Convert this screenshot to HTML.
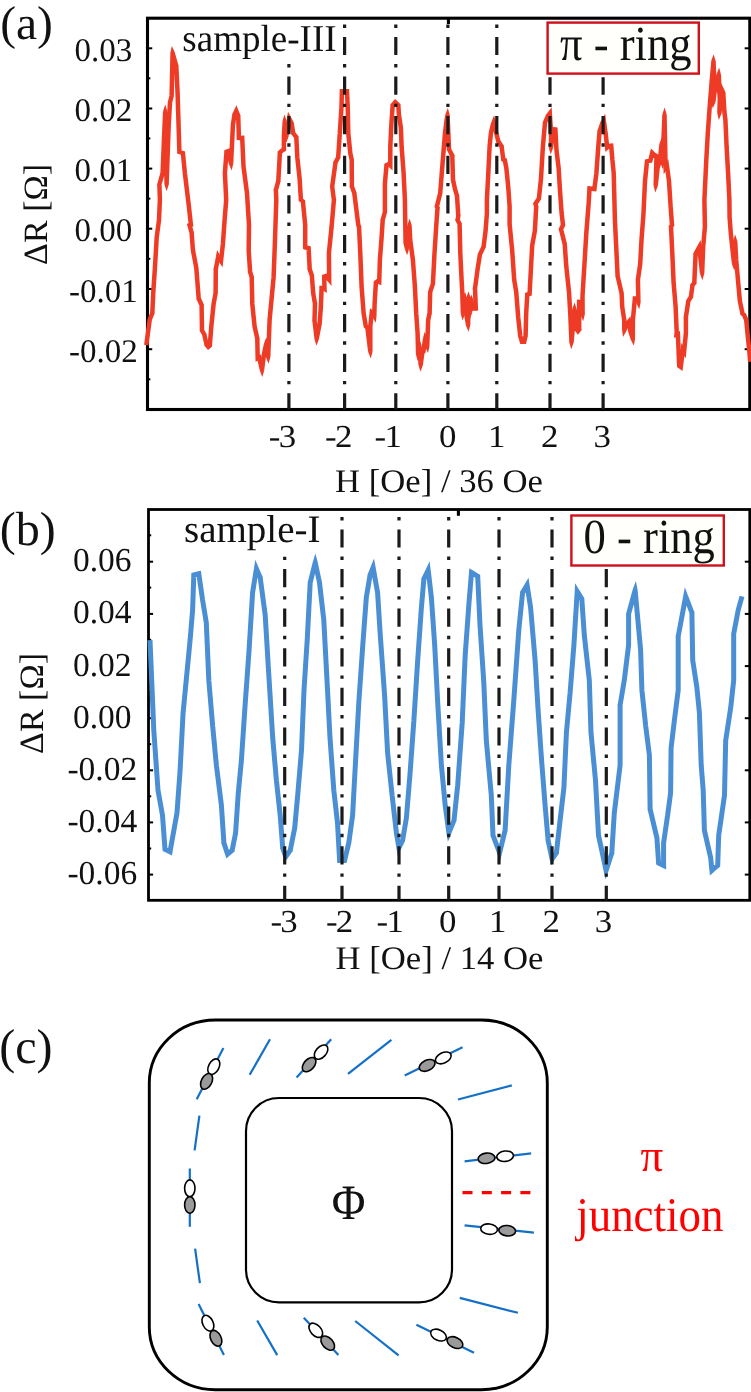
<!DOCTYPE html>
<html lang="en"><head><meta charset="utf-8"><title>Figure</title>
<style>
html,body{margin:0;padding:0;background:#fff;}
body{width:751px;height:1392px;overflow:hidden;}
svg{display:block;}
text{font-family:"Liberation Serif","DejaVu Serif",serif;fill:#111;text-rendering:geometricPrecision;}
</style></head><body>
<svg width="751" height="1392" viewBox="0 0 751 1392">
<rect width="751" height="1392" fill="#fff"/>

<rect x="147.5" y="18.2" width="602.3" height="391.3" fill="none" stroke="#000" stroke-width="3.1"/>
<g stroke="#000" stroke-width="2">
<line x1="147.5" y1="48.3" x2="152.25" y2="48.3"/>
<line x1="749.8" y1="48.3" x2="744.65" y2="48.3"/>
<line x1="147.5" y1="108.5" x2="152.25" y2="108.5"/>
<line x1="749.8" y1="108.5" x2="744.65" y2="108.5"/>
<line x1="147.5" y1="168.6" x2="152.25" y2="168.6"/>
<line x1="749.8" y1="168.6" x2="744.65" y2="168.6"/>
<line x1="147.5" y1="228.7" x2="152.25" y2="228.7"/>
<line x1="749.8" y1="228.7" x2="744.65" y2="228.7"/>
<line x1="147.5" y1="289.0" x2="152.25" y2="289.0"/>
<line x1="749.8" y1="289.0" x2="744.65" y2="289.0"/>
<line x1="147.5" y1="349.2" x2="152.25" y2="349.2"/>
<line x1="749.8" y1="349.2" x2="744.65" y2="349.2"/>
<line x1="147.5" y1="78.3" x2="150.35000000000002" y2="78.3"/>
<line x1="147.5" y1="138.4" x2="150.35000000000002" y2="138.4"/>
<line x1="147.5" y1="198.6" x2="150.35000000000002" y2="198.6"/>
<line x1="147.5" y1="258.8" x2="150.35000000000002" y2="258.8"/>
<line x1="147.5" y1="319.0" x2="150.35000000000002" y2="319.0"/>
<line x1="147.5" y1="379.3" x2="150.35000000000002" y2="379.3"/>
</g>
<path d="M146.3,345.1 L149.7,319.8 L152.3,313.2 L153.3,291.9 L155.0,266.6 L156.7,237.3 L159.0,220.0 L159.9,200.0 L159.4,184.5 L162.6,173.2 L163.9,141.2 L165.2,111.6 L166.6,184.2 L168.7,125.2 L170.0,102.6 L171.6,95.9 L172.6,52.9 L176.3,66.0 L177.6,93.3 L179.4,151.9 L182.9,153.2 L184.9,173.2 L188.9,206.4 L190.9,225.0 L189.6,225.3 L191.6,232.6 L192.9,249.9 L196.3,267.9 L198.7,298.5 L201.6,305.2 L202.0,330.5 L204.3,334.5 L206.6,344.8 L208.3,346.8 L209.8,345.5 L211.3,326.5 L213.6,303.9 L215.6,293.2 L215.8,269.2 L218.2,256.6 L219.3,258.6 L221.0,261.1 L222.9,243.9 L224.6,220.0 L226.2,200.0 L224.9,173.2 L226.5,151.9 L228.2,151.2 L231.1,163.5 L232.9,125.2 L234.5,114.6 L236.2,110.9 L238.2,115.9 L238.9,137.9 L242.2,137.9 L243.5,166.5 L247.0,193.1 L249.0,225.0 L248.7,250.6 L250.1,271.9 L251.7,277.2 L252.3,303.9 L254.6,326.5 L257.3,338.5 L257.7,358.2 L259.2,357.4 L262.0,370.1 L263.9,354.5 L266.1,344.1 L268.2,356.8 L269.6,319.8 L271.6,298.5 L273.6,277.2 L275.0,239.9 L276.3,200.0 L275.9,189.8 L278.3,181.1 L279.9,152.5 L282.3,150.4 L283.9,149.3 L283.9,135.9 L284.7,121.5 L286.5,135.5 L289.2,118.6 L291.6,123.2 L293.2,133.2 L296.3,137.2 L297.3,157.2 L299.6,178.5 L300.9,199.8 L302.9,201.4 L305.2,225.0 L305.2,247.3 L308.6,248.2 L309.7,269.2 L311.8,275.2 L313.2,293.2 L315.0,303.9 L314.5,320.5 L316.7,338.8 L319.6,323.8 L320.9,306.5 L321.6,287.9 L322.9,287.8 L324.5,288.8 L324.2,276.6 L326.1,276.0 L329.2,279.7 L328.9,253.3 L331.6,226.6 L333.9,200.0 L332.2,186.5 L335.5,162.5 L338.2,157.2 L339.8,133.2 L341.5,106.6 L341.9,91.3 L347.0,91.3 L347.7,106.6 L348.3,133.2 L350.3,153.2 L351.7,159.8 L351.9,186.5 L354.3,193.1 L356.3,209.1 L358.3,225.0 L359.0,226.6 L360.3,253.3 L361.6,286.6 L363.6,313.2 L365.8,326.2 L367.4,327.6 L370.3,351.5 L370.3,326.5 L371.8,312.3 L373.0,313.2 L374.3,316.0 L374.6,303.9 L375.9,282.6 L377.6,281.2 L379.2,281.9 L379.9,259.9 L381.6,237.3 L382.7,220.0 L384.9,212.0 L384.9,183.8 L386.5,165.2 L388.9,163.9 L390.3,165.2 L390.3,146.5 L391.3,125.2 L392.7,105.2 L395.2,102.2 L398.3,105.2 L398.9,114.6 L400.9,127.9 L401.6,146.5 L403.6,173.2 L404.9,199.8 L405.2,220.0 L405.6,242.6 L406.9,248.3 L408.6,239.9 L409.5,225.6 L410.2,239.9 L412.9,259.9 L414.9,286.6 L416.2,313.2 L417.6,333.2 L418.1,354.1 L419.2,345.5 L420.7,364.8 L422.4,352.1 L423.4,351.5 L425.1,338.8 L427.2,346.2 L428.2,319.8 L429.6,313.2 L430.2,291.9 L432.9,283.9 L434.5,253.3 L436.2,226.6 L437.5,208.0 L436.9,206.4 L440.2,193.1 L442.2,167.8 L445.0,133.2 L446.6,119.9 L447.5,114.9 L448.3,133.2 L449.0,149.2 L452.3,155.8 L453.0,179.8 L455.0,189.1 L457.0,195.8 L458.3,215.8 L457.6,220.0 L459.6,224.0 L460.3,253.3 L461.6,279.9 L462.3,293.2 L462.9,313.5 L464.9,298.9 L466.3,314.5 L468.1,324.9 L468.6,298.2 L470.0,312.2 L471.7,301.5 L473.6,308.5 L475.8,308.4 L475.0,288.5 L477.6,269.2 L479.9,254.6 L483.6,246.6 L485.6,230.6 L486.9,213.3 L486.9,199.8 L488.3,173.2 L489.6,146.5 L490.9,133.2 L492.7,125.2 L493.7,122.3 L496.3,133.2 L498.3,141.2 L501.6,146.5 L503.3,159.5 L504.8,160.2 L506.3,167.8 L508.2,186.5 L509.6,206.4 L509.6,224.0 L512.2,250.6 L514.2,279.9 L516.2,291.9 L518.2,317.2 L520.2,335.8 L522.0,341.8 L524.2,341.8 L525.6,335.8 L526.2,313.2 L527.3,294.5 L529.6,293.9 L530.9,269.2 L532.2,245.3 L534.9,230.6 L536.2,206.7 L535.5,203.8 L538.9,198.5 L540.9,179.8 L542.9,146.5 L545.0,122.6 L547.9,115.9 L549.8,113.4 L551.1,133.2 L551.0,147.5 L552.9,129.2 L555.4,129.5 L556.5,150.5 L558.6,167.8 L559.9,189.1 L561.6,213.1 L563.0,225.0 L561.0,229.3 L564.7,243.9 L566.3,266.6 L569.0,291.9 L570.3,314.5 L571.5,342.2 L574.5,309.5 L576.7,329.2 L577.9,331.1 L579.2,329.5 L579.1,301.9 L580.8,301.7 L582.6,314.2 L582.5,295.9 L584.3,266.6 L586.3,233.3 L588.7,202.7 L589.5,188.5 L594.4,188.9 L596.4,173.2 L598.3,146.5 L599.6,131.2 L602.3,123.2 L603.8,120.5 L605.6,133.2 L607.2,147.4 L608.9,145.9 L611.2,145.7 L612.4,159.8 L613.7,173.2 L614.4,199.8 L614.9,220.0 L616.2,246.6 L617.6,275.9 L621.6,293.2 L622.2,306.5 L624.2,319.8 L624.3,330.2 L626.5,324.8 L627.8,322.9 L629.0,321.5 L630.2,330.5 L632.8,338.9 L632.9,319.8 L634.9,298.5 L637.5,298.5 L638.4,302.2 L637.9,279.9 L640.2,263.9 L641.5,239.9 L643.5,213.3 L645.0,181.1 L647.0,161.4 L650.3,160.6 L652.2,152.9 L654.1,154.8 L656.5,156.1 L655.7,185.5 L657.6,167.8 L659.9,160.5 L661.5,144.5 L662.6,162.2 L664.5,114.5 L665.6,167.5 L666.9,165.5 L669.0,181.1 L670.6,206.4 L672.0,225.0 L671.0,226.6 L672.3,253.3 L673.6,282.6 L675.6,306.5 L676.7,331.8 L676.5,334.5 L677.9,334.1 L679.2,365.8 L680.8,366.9 L682.9,349.5 L684.1,351.5 L685.9,333.2 L685.9,317.2 L688.3,301.2 L690.9,296.9 L692.5,285.2 L694.3,282.8 L695.6,253.9 L697.9,249.5 L699.2,247.0 L702.1,273.2 L703.2,246.6 L704.9,226.6 L704.4,199.8 L706.3,159.8 L707.8,133.2 L709.7,106.6 L711.8,79.9 L713.5,61.2 L714.5,87.9 L713.4,101.6 L715.8,79.6 L717.2,87.6 L718.8,74.5 L719.8,99.9 L719.4,112.9 L722.0,89.9 L723.3,93.3 L724.4,111.9 L725.4,119.9 L726.6,146.5 L728.1,173.2 L729.4,199.8 L729.6,217.3 L730.9,234.6 L732.9,253.3 L734.1,263.6 L735.2,241.6 L736.2,259.9 L738.2,282.6 L739.9,301.2 L742.5,313.5 L744.2,315.1 L746.2,319.8 L747.5,333.2 L749.5,353.1 L750.2,361.8" fill="none" stroke="#ee3b26" stroke-width="4.5" stroke-linejoin="bevel" stroke-linecap="butt"/>
<path d="M150.43,320.04 L147.43,319.55 L147.47,319.27 L147.57,319.00Z M154.57,313.28 L154.55,313.66 L154.41,314.02 L151.54,313.01Z M160.18,184.57 L157.13,184.55 L157.12,184.20 L157.22,183.86Z M164.82,173.25 L164.81,173.51 L164.74,173.77 L161.79,173.03Z M165.17,112.36 L162.93,111.47 L165.26,104.56 L167.43,111.52Z M168.87,184.23 L166.57,191.15 L164.37,184.20 L166.63,183.35Z M170.82,102.70 L167.79,102.45 L167.80,102.25 L167.85,102.06Z M173.88,95.98 L173.87,96.22 L173.82,96.45 L170.84,95.82Z M172.74,53.73 L170.39,52.89 L171.77,46.00 L174.81,52.33Z M175.50,66.09 L178.46,65.36 L178.53,65.60 L178.54,65.86Z M178.57,153.96 L177.15,153.43 L177.11,151.92 L180.00,151.38Z M182.32,153.67 L183.73,151.07 L185.05,151.56 L185.19,152.96Z M190.28,224.50 L193.18,224.71 L193.38,226.61 L191.54,227.12Z M187.46,225.90 L186.88,223.74 L189.03,223.15 L190.33,225.71Z M190.82,232.76 L193.78,232.04 L193.83,232.24 L193.85,232.45Z M196.60,299.44 L196.45,299.09 L196.42,298.71 L199.44,298.34Z M200.81,305.36 L203.65,304.29 L203.83,304.70 L203.84,305.16Z M200.03,331.60 L199.75,331.10 L199.74,330.53 L202.76,330.28Z M203.51,334.78 L206.21,333.38 L206.37,333.66 L206.45,333.98Z M204.91,346.26 L204.57,345.85 L204.45,345.32 L207.36,344.46Z M209.75,348.51 L208.02,349.98 L206.56,348.24 L208.36,346.00Z M212.05,345.68 L211.98,346.61 L211.27,347.21 L209.10,345.13Z M217.82,293.23 L217.82,293.43 L217.78,293.62 L214.78,293.13Z M216.64,269.32 L213.59,269.22 L213.59,269.03 L213.63,268.84Z M218.29,257.34 L215.94,256.15 L217.06,250.02 L220.12,255.45Z M223.24,261.31 L222.58,267.31 L219.15,262.34 L220.81,260.29Z M227.13,152.34 L224.25,151.68 L224.36,150.22 L225.75,149.73Z M227.85,151.94 L227.49,149.11 L229.87,148.28 L230.43,150.74Z M233.30,163.62 L231.67,170.49 L228.86,164.02 L230.98,162.72Z M235.25,114.80 L232.26,114.23 L232.30,113.91 L232.45,113.61Z M236.19,111.70 L234.18,109.93 L236.39,105.26 L238.31,110.06Z M237.43,116.06 L240.30,115.07 L240.45,115.43 L240.46,115.83Z M238.87,140.12 L236.69,140.12 L236.63,137.94 L239.43,137.30Z M241.65,138.45 L242.20,135.62 L244.35,135.62 L244.45,137.76Z M247.90,272.55 L247.83,272.30 L247.81,272.04 L250.85,271.76Z M250.87,277.36 L253.81,276.58 L253.90,276.87 L253.91,277.17Z M256.46,338.58 L259.45,337.99 L259.49,338.21 L259.50,338.43Z M258.74,360.17 L255.59,361.71 L255.50,358.21 L258.16,357.47Z M258.85,358.16 L258.21,355.42 L260.78,354.17 L261.39,356.96Z M264.21,370.39 L262.30,377.11 L259.78,370.60 L261.94,369.32Z M266.10,344.93 L263.92,343.66 L266.30,337.13 L268.34,343.77Z M270.40,356.89 L268.57,363.79 L265.93,357.16 L268.11,356.00Z M276.69,189.89 L273.64,189.89 L273.63,189.54 L273.72,189.20Z M280.54,181.27 L280.52,181.51 L280.46,181.75 L277.50,181.02Z M280.60,152.87 L277.64,152.39 L277.69,151.44 L278.42,150.81Z M286.18,149.32 L286.19,150.52 L285.20,151.20 L283.23,148.96Z M284.71,122.35 L282.43,121.42 L284.41,114.55 L286.91,121.25Z M288.74,135.89 L286.44,142.55 L284.29,135.84 L286.53,134.75Z M289.29,119.37 L286.94,118.24 L288.01,111.68 L291.15,117.54Z M290.85,123.48 L293.60,122.17 L293.77,122.50 L293.83,122.87Z M291.42,134.58 L291.07,134.13 L290.98,133.56 L293.94,132.89Z M295.51,137.48 L298.05,135.83 L298.47,136.39 L298.51,137.08Z M299.52,201.54 L298.74,200.92 L298.68,199.93 L301.64,199.42Z M302.22,201.77 L304.33,199.63 L305.07,200.22 L305.16,201.17Z M304.60,249.44 L302.94,248.99 L302.94,247.27 L305.82,246.78Z M308.03,248.70 L309.23,246.03 L310.81,246.46 L310.90,248.09Z M307.59,269.99 L307.48,269.68 L307.47,269.35 L310.50,269.09Z M311.06,275.40 L313.96,274.48 L314.07,274.76 L314.09,275.07Z M314.24,303.92 L317.26,303.47 L317.30,303.70 L317.29,303.93Z M312.27,320.77 L312.25,320.60 L312.26,320.43 L315.31,320.47Z M318.90,339.25 L316.44,345.82 L314.45,339.09 L316.71,338.03Z M322.14,288.44 L319.32,287.80 L319.39,285.76 L321.43,285.64Z M322.70,288.57 L322.76,285.55 L323.51,285.51 L324.13,285.92Z M326.74,288.79 L326.83,293.06 L323.25,290.72 L324.10,288.14Z M324.87,277.04 L321.98,276.61 L321.94,274.90 L323.59,274.41Z M325.88,276.77 L325.47,273.85 L326.90,273.42 L327.85,274.57Z M331.41,279.65 L331.47,285.99 L327.43,281.11 L328.88,278.92Z M336.18,199.71 L336.21,199.96 L336.19,200.20 L333.15,200.02Z M333.02,186.48 L329.99,186.76 L329.95,186.46 L329.99,186.16Z M336.31,162.74 L333.32,162.19 L333.37,161.83 L333.53,161.50Z M340.45,157.33 L340.42,157.78 L340.22,158.18 L337.44,156.97Z M342.50,91.84 L339.69,91.21 L339.75,89.01 L341.94,89.01Z M346.44,91.84 L347.00,89.01 L349.15,89.01 L349.25,91.17Z M350.86,159.92 L353.86,159.40 L353.91,159.61 L353.91,159.82Z M349.81,187.23 L349.68,186.87 L349.67,186.49 L352.71,186.33Z M353.54,193.32 L356.44,192.37 L356.52,192.60 L356.55,192.85Z M356.22,225.78 L356.12,225.52 L356.08,225.23 L359.09,224.75Z M358.20,226.80 L361.07,225.80 L361.21,226.15 L361.23,226.52Z M364.31,327.85 L363.73,327.32 L363.59,326.54 L366.51,325.79Z M366.68,327.96 L368.89,325.91 L369.52,326.47 L369.62,327.31Z M372.59,351.48 L370.77,358.46 L368.10,351.75 L370.29,350.68Z M372.13,313.06 L369.56,312.09 L369.98,308.20 L373.13,310.52Z M372.35,313.69 L374.29,311.37 L374.75,311.70 L374.99,312.22Z M376.55,316.05 L375.77,322.84 L372.27,316.97 L374.13,315.22Z M376.60,282.93 L373.65,282.42 L373.71,281.40 L374.52,280.77Z M377.72,282.02 L376.25,279.44 L377.32,278.62 L378.55,279.17Z M381.41,281.99 L381.30,285.35 L378.24,283.97 L378.74,281.24Z M383.47,220.11 L380.44,219.84 L380.45,219.59 L380.52,219.36Z M387.20,211.98 L387.20,212.30 L387.11,212.60 L384.15,211.87Z M387.21,165.61 L384.30,164.97 L384.41,163.74 L385.51,163.17Z M388.80,164.74 L387.87,161.95 L389.28,161.22 L390.44,162.30Z M392.53,165.23 L392.54,170.41 L388.75,166.88 L389.96,164.50Z M393.41,105.55 L390.42,105.10 L390.47,104.36 L390.95,103.79Z M395.26,103.03 L393.51,100.77 L395.09,98.92 L396.82,100.63Z M397.54,105.58 L399.85,103.65 L400.45,104.25 L400.51,105.09Z M403.40,243.13 L403.34,242.89 L403.34,242.65 L406.38,242.51Z M409.14,248.73 L407.04,255.28 L404.75,248.80 L406.92,247.48Z M410.89,240.09 L410.88,240.25 L410.85,240.40 L407.86,239.84Z M409.54,226.42 L407.30,225.48 L409.59,218.62 L411.79,225.51Z M420.35,354.43 L417.76,361.13 L415.87,354.20 L418.16,353.34Z M419.21,346.26 L417.00,345.17 L419.42,338.47 L421.48,345.29Z M422.93,365.09 L420.50,371.79 L418.45,364.96 L420.72,363.99Z M423.07,352.54 L420.16,351.82 L420.30,350.80 L421.16,350.24Z M425.60,351.79 L425.46,352.80 L424.61,353.36 L422.69,351.05Z M425.19,339.60 L422.91,338.49 L424.66,331.82 L427.30,338.19Z M429.46,346.24 L428.04,353.11 L425.05,346.77 L427.12,345.36Z M429.02,319.93 L425.97,319.75 L425.98,319.57 L426.02,319.40Z M431.80,313.25 L431.80,313.44 L431.76,313.62 L428.76,313.09Z M431.01,292.02 L427.97,291.81 L427.98,291.48 L428.09,291.17Z M435.13,284.01 L435.11,284.31 L435.02,284.60 L432.10,283.74Z M439.61,207.10 L439.83,207.60 L439.79,208.15 L436.75,208.12Z M437.67,206.38 L434.81,207.34 L434.51,206.64 L434.69,205.90Z M442.45,193.31 L442.43,193.49 L442.39,193.67 L439.42,193.00Z M447.41,115.69 L445.24,114.51 L447.89,107.90 L449.71,114.78Z M446.98,150.19 L446.77,149.76 L446.75,149.28 L449.77,148.99Z M451.55,156.04 L454.34,154.84 L454.56,155.28 L454.57,155.78Z M450.79,180.29 L450.75,180.08 L450.74,179.88 L453.78,179.72Z M456.20,195.93 L459.14,195.15 L459.21,195.39 L459.23,195.64Z M457.52,215.73 L460.56,215.62 L460.58,215.87 L460.54,216.12Z M455.64,220.98 L455.31,220.33 L455.43,219.62 L458.44,219.85Z M458.87,224.16 L461.66,222.96 L461.89,223.41 L461.90,223.92Z M465.14,313.83 L462.54,320.52 L460.66,313.59 L462.95,312.73Z M464.89,299.66 L462.67,298.56 L465.06,291.86 L467.15,298.66Z M470.31,324.90 L468.58,331.84 L465.84,325.23 L468.00,324.06Z M468.65,298.99 L466.36,298.14 L468.33,291.20 L470.85,297.96Z M472.25,312.54 L469.84,319.19 L467.79,312.42 L470.05,311.39Z M471.74,302.31 L469.47,301.17 L471.29,294.52 L473.86,300.91Z M473.74,310.77 L471.94,310.86 L471.46,309.12 L474.10,307.87Z M478.08,308.32 L478.17,310.56 L475.94,310.66 L475.24,307.88Z M475.76,288.59 L472.71,288.65 L472.70,288.44 L472.73,288.24Z M480.65,254.83 L477.66,254.25 L477.71,253.93 L477.85,253.64Z M485.85,246.88 L485.80,247.24 L485.65,247.56 L482.85,246.38Z M493.66,123.12 L491.58,121.57 L494.09,115.34 L495.89,121.81Z M496.35,142.39 L496.17,142.09 L496.08,141.74 L499.00,140.89Z M500.84,146.80 L503.50,145.33 L503.76,145.75 L503.82,146.23Z M502.45,161.61 L501.25,161.11 L501.08,159.83 L503.95,159.04Z M504.20,160.66 L505.68,158.07 L506.81,158.54 L507.03,159.74Z M518.07,336.44 L518.02,336.25 L518.00,336.06 L521.02,335.66Z M521.96,344.06 L520.27,344.06 L519.80,342.44 L522.44,341.17Z M526.42,342.30 L526.03,344.06 L524.23,344.06 L523.73,341.19Z M527.81,335.89 L527.80,336.10 L527.76,336.31 L524.77,335.72Z M527.92,295.04 L525.04,294.41 L525.13,292.83 L526.66,292.38Z M531.80,294.00 L531.71,295.58 L530.19,296.03 L528.93,293.38Z M538.40,206.15 L538.48,206.46 L538.46,206.78 L535.41,206.73Z M536.33,203.91 L533.35,204.29 L533.14,203.38 L533.64,202.59Z M541.11,198.70 L541.06,199.21 L540.78,199.65 L538.12,198.19Z M545.77,122.76 L542.76,122.36 L542.79,121.99 L542.94,121.65Z M548.62,116.30 L545.87,114.99 L545.97,114.76 L546.13,114.55Z M549.60,114.13 L548.03,112.01 L551.68,107.13 L552.07,113.21Z M553.25,147.77 L550.62,154.53 L548.76,147.52 L551.06,146.74Z M553.43,129.84 L550.69,128.98 L550.92,126.74 L553.17,126.98Z M554.80,130.03 L555.63,127.24 L557.54,127.45 L557.63,129.37Z M562.19,224.83 L565.21,224.70 L565.28,225.32 L565.02,225.89Z M558.80,229.85 L558.60,229.08 L558.93,228.35 L561.78,229.37Z M563.92,244.07 L566.89,243.39 L566.94,243.58 L566.95,243.78Z M573.72,342.36 L571.30,349.15 L569.23,342.25 L571.50,341.35Z M574.53,310.31 L572.29,309.30 L574.48,302.51 L576.76,309.27Z M574.82,330.52 L574.49,330.05 L574.43,329.48 L577.42,328.96Z M579.70,332.50 L577.81,334.83 L576.10,332.37 L577.97,330.28Z M581.44,329.54 L581.44,330.34 L580.94,330.96 L578.43,329.28Z M579.68,302.40 L576.84,301.87 L576.83,299.82 L578.88,299.62Z M580.28,302.33 L580.57,299.46 L582.70,299.26 L583.01,301.38Z M584.85,314.20 L583.11,321.18 L580.37,314.53 L582.54,313.40Z M590.03,189.06 L587.26,188.32 L587.40,185.98 L589.74,186.21Z M596.63,189.23 L596.36,191.41 L594.17,191.19 L593.90,188.32Z M600.38,131.37 L597.35,131.02 L597.38,130.75 L597.46,130.50Z M602.99,123.55 L600.12,122.51 L600.20,122.29 L600.31,122.09Z M603.66,121.33 L601.88,119.41 L605.15,113.80 L606.05,120.23Z M608.69,149.11 L605.43,152.08 L604.94,147.69 L607.46,146.70Z M609.24,146.59 L607.40,144.20 L607.96,143.68 L608.72,143.62Z M610.64,146.28 L610.96,143.42 L613.20,143.23 L613.39,145.47Z M615.38,276.40 L615.33,276.21 L615.32,276.00 L618.36,275.79Z M620.77,293.32 L623.76,292.70 L623.80,292.90 L623.81,293.10Z M623.43,319.90 L626.45,319.51 L626.48,319.66 L626.48,319.82Z M626.41,331.02 L623.04,337.07 L622.07,330.21 L624.47,329.40Z M627.17,325.15 L624.37,323.95 L624.47,323.71 L624.61,323.49Z M628.76,322.26 L627.29,320.02 L630.54,316.28 L631.22,321.19Z M628.07,331.16 L628.02,330.98 L627.99,330.80 L631.00,330.32Z M635.06,338.88 L633.85,345.80 L630.66,339.54 L632.70,338.08Z M635.42,299.13 L632.64,298.33 L632.83,296.29 L634.88,296.29Z M637.04,299.16 L637.54,296.29 L639.34,296.29 L639.74,298.04Z M640.63,302.18 L639.23,309.18 L636.19,302.73 L638.28,301.43Z M638.74,279.94 L635.69,279.94 L635.69,279.76 L635.71,279.58Z M647.60,161.96 L644.76,161.21 L644.92,159.62 L646.47,159.25Z M652.51,161.17 L652.19,162.51 L650.85,162.83 L649.76,160.07Z M652.41,153.69 L650.00,152.39 L650.94,148.49 L653.78,151.33Z M652.96,156.75 L652.69,156.59 L652.46,156.37 L654.54,154.14Z M655.76,156.51 L657.54,154.14 L658.73,154.81 L658.70,156.17Z M657.98,185.73 L655.29,192.48 L653.50,185.44 L655.80,184.69Z M658.43,167.99 L655.41,167.59 L655.44,167.37 L655.50,167.17Z M662.15,160.73 L662.13,160.95 L662.06,161.17 L659.13,160.35Z M661.49,145.25 L659.27,144.23 L661.65,137.45 L663.76,144.31Z M664.83,162.27 L662.65,169.18 L660.34,162.32 L662.57,161.38Z M664.50,115.29 L662.26,114.40 L664.58,107.49 L666.76,114.45Z M667.47,168.73 L663.68,174.25 L663.33,167.56 L665.79,166.75Z M666.70,166.27 L664.97,164.28 L668.28,159.10 L669.10,165.19Z M671.25,224.76 L674.27,224.78 L674.33,225.52 L673.93,226.15Z M668.73,226.74 L668.69,226.03 L669.07,225.43 L671.75,226.83Z M677.19,336.68 L673.97,337.75 L674.24,334.36 L676.97,333.91Z M677.41,334.74 L677.16,331.95 L679.98,331.01 L680.11,333.99Z M677.87,367.57 L677.03,366.93 L676.98,365.88 L679.94,365.41Z M682.99,367.21 L682.52,371.10 L679.40,368.73 L680.45,366.20Z M683.05,350.24 L680.65,349.18 L681.42,342.85 L684.79,348.27Z M686.38,351.69 L685.74,358.29 L682.23,352.67 L683.96,350.70Z M686.68,317.24 L683.64,317.18 L683.64,317.01 L683.66,316.84Z M689.03,301.48 L686.06,300.86 L686.13,300.40 L686.38,300.01Z M693.18,297.24 L693.11,297.72 L692.85,298.13 L690.19,296.67Z M693.29,285.52 L690.32,284.92 L690.39,284.36 L690.72,283.90Z M696.52,282.93 L696.49,283.60 L696.10,284.14 L693.52,282.56Z M696.38,254.13 L693.36,253.82 L693.38,253.33 L693.61,252.90Z M699.08,247.77 L697.24,245.93 L700.55,240.11 L701.47,246.74Z M704.39,273.27 L702.39,280.18 L699.90,273.43 L702.11,272.38Z M713.44,62.03 L711.21,61.03 L713.62,54.23 L715.70,61.14Z M715.63,101.86 L712.73,108.58 L711.15,101.43 L713.47,100.82Z M715.81,80.40 L713.55,79.36 L715.56,72.61 L718.00,79.22Z M719.41,87.89 L717.35,94.61 L714.96,88.00 L717.16,86.81Z M718.75,75.34 L716.55,74.27 L719.07,67.55 L721.03,74.45Z M721.61,113.17 L718.86,119.90 L717.13,112.84 L719.44,112.12Z M722.08,90.67 L719.74,89.63 L721.06,82.94 L724.07,89.06Z M722.51,93.43 L725.39,92.44 L725.52,92.78 L725.54,93.13Z M736.31,263.71 L734.28,270.59 L731.83,263.85 L734.04,262.79Z M735.20,242.40 L732.95,241.49 L735.19,234.60 L737.45,241.48Z M740.96,315.09 L740.47,314.62 L740.33,313.95 L743.23,313.10Z M743.52,315.55 L745.75,313.49 L746.07,313.80 L746.25,314.21Z M745.43,320.04 L748.28,318.96 L748.41,319.27 L748.45,319.62Z" fill="#ee3b26" fill-rule="nonzero" stroke="none"/>
<g stroke="#1a1a1a" stroke-width="3.2" fill="none">
<line x1="288.9" y1="63.8" x2="288.9" y2="409.5" stroke-dasharray="18.2 9 3.4 9" stroke-dashoffset="26.9"/>
<line x1="344.6" y1="24.4" x2="344.6" y2="409.5" stroke-dasharray="18.2 9 3.4 9" stroke-dashoffset="27.1"/>
<line x1="395.8" y1="24.4" x2="395.8" y2="409.5" stroke-dasharray="18.2 9 3.4 9" stroke-dashoffset="27.1"/>
<line x1="447.9" y1="24.4" x2="447.9" y2="409.5" stroke-dasharray="18.2 9 3.4 9" stroke-dashoffset="27.1"/>
<line x1="496.8" y1="24.4" x2="496.8" y2="409.5" stroke-dasharray="18.2 9 3.4 9" stroke-dashoffset="27.1"/>
<line x1="550.0" y1="77.2" x2="550.0" y2="409.5" stroke-dasharray="18.2 9 3.4 9" stroke-dashoffset="0.7"/>
<line x1="603.1" y1="77.2" x2="603.1" y2="409.5" stroke-dasharray="18.2 9 3.4 9" stroke-dashoffset="0.7"/>
</g>
<line x1="448.4" y1="19" x2="448.4" y2="24" stroke="#000" stroke-width="3.1"/>
<text transform="translate(103.4,60.8)" text-anchor="middle" style="font-size:33px;">0.03</text>
<text transform="translate(103.4,121.0)" text-anchor="middle" style="font-size:33px;">0.02</text>
<text transform="translate(103.4,181.1)" text-anchor="middle" style="font-size:33px;">0.01</text>
<text transform="translate(103.4,241.2)" text-anchor="middle" style="font-size:33px;">0.00</text>
<text transform="translate(103.4,301.5)" text-anchor="middle" style="font-size:33px;">-0.01</text>
<text transform="translate(103.4,361.7)" text-anchor="middle" style="font-size:33px;">-0.02</text>
<text transform="translate(281.59999999999997,446.6) scale(1.09,1)" text-anchor="middle" style="font-size:32px;letter-spacing:-1.6px;">-3</text>
<text transform="translate(337.9,446.6) scale(1.09,1)" text-anchor="middle" style="font-size:32px;letter-spacing:-1.6px;">-2</text>
<text transform="translate(387.3,446.6) scale(1.09,1)" text-anchor="middle" style="font-size:32px;letter-spacing:-1.6px;">-1</text>
<text transform="translate(447.7,446.6) scale(1.09,1)" text-anchor="middle" style="font-size:32px;">0</text>
<text transform="translate(496.6,446.6) scale(1.09,1)" text-anchor="middle" style="font-size:32px;">1</text>
<text transform="translate(549.8,446.6) scale(1.09,1)" text-anchor="middle" style="font-size:32px;">2</text>
<text transform="translate(602.3,446.6) scale(1.09,1)" text-anchor="middle" style="font-size:32px;">3</text>
<text transform="translate(439,491.5) scale(1.05,1)" text-anchor="middle" style="font-size:33px;">H [Oe] / 36 Oe</text>
<text transform="translate(0.2,39.1)" text-anchor="start" style="font-size:47.5px;">(a)</text>
<text transform="translate(182.3,51) scale(0.975,1)" text-anchor="start" style="font-size:38px;">sample-III</text>
<text transform="translate(47.2,214.4) rotate(-90)" text-anchor="middle" style="font-size:34px;">ΔR [Ω]</text>
<rect x="547.6" y="22.6" width="151.2" height="51" fill="#fffffb" stroke="#d0101c" stroke-width="2.4"/>
<text transform="translate(560,60.4) scale(0.91,1)" text-anchor="start" style="font-size:49px;">π - ring</text>
<rect x="148.5" y="509.5" width="601.3" height="390.79999999999995" fill="none" stroke="#000" stroke-width="2.8"/>
<g stroke="#000" stroke-width="2">
<line x1="148.5" y1="561.7" x2="153.1" y2="561.7"/>
<line x1="749.8" y1="561.7" x2="744.8" y2="561.7"/>
<line x1="148.5" y1="613.9" x2="153.1" y2="613.9"/>
<line x1="749.8" y1="613.9" x2="744.8" y2="613.9"/>
<line x1="148.5" y1="666.1" x2="153.1" y2="666.1"/>
<line x1="749.8" y1="666.1" x2="744.8" y2="666.1"/>
<line x1="148.5" y1="718.2" x2="153.1" y2="718.2"/>
<line x1="749.8" y1="718.2" x2="744.8" y2="718.2"/>
<line x1="148.5" y1="770.3" x2="153.1" y2="770.3"/>
<line x1="749.8" y1="770.3" x2="744.8" y2="770.3"/>
<line x1="148.5" y1="822.4" x2="153.1" y2="822.4"/>
<line x1="749.8" y1="822.4" x2="744.8" y2="822.4"/>
<line x1="148.5" y1="874.6" x2="153.1" y2="874.6"/>
<line x1="749.8" y1="874.6" x2="744.8" y2="874.6"/>
<line x1="148.5" y1="535.3" x2="151.20000000000002" y2="535.3"/>
<line x1="148.5" y1="587.6" x2="151.20000000000002" y2="587.6"/>
<line x1="148.5" y1="639.8" x2="151.20000000000002" y2="639.8"/>
<line x1="148.5" y1="692.0" x2="151.20000000000002" y2="692.0"/>
<line x1="148.5" y1="744.2" x2="151.20000000000002" y2="744.2"/>
<line x1="148.5" y1="796.3" x2="151.20000000000002" y2="796.3"/>
<line x1="148.5" y1="848.5" x2="151.20000000000002" y2="848.5"/>
</g>
<path d="M150.0,640.1 L153.8,730.3 L158.0,790.3 L162.5,815.4 L165.0,849.2 L170.0,851.7 L177.0,812.9 L180.1,770.3 L183.1,712.7 L190.1,640.1 L192.6,610.1 L193.8,575.0 L198.8,573.8 L202.6,600.1 L206.3,622.6 L208.8,680.2 L212.6,725.2 L216.4,765.3 L221.4,805.4 L223.9,842.9 L227.6,854.2 L232.1,850.4 L235.6,832.9 L238.1,795.3 L241.4,760.3 L245.1,705.2 L248.9,652.6 L252.6,592.6 L256.4,568.8 L260.2,577.5 L265.2,615.1 L268.2,665.2 L272.7,737.8 L276.4,780.3 L280.2,815.4 L282.7,847.9 L285.7,856.7 L290.2,850.4 L294.7,827.9 L297.7,795.3 L301.5,750.3 L304.0,690.2 L307.2,640.1 L310.2,582.6 L315.2,562.5 L319.5,582.6 L323.8,620.1 L327.0,680.2 L330.0,737.8 L333.8,790.3 L337.5,822.9 L339.6,860.4 L344.6,860.4 L348.8,842.9 L352.6,815.4 L355.6,760.3 L358.8,702.7 L362.6,647.6 L366.3,597.6 L370.1,575.0 L373.1,567.5 L377.6,592.6 L380.1,632.6 L384.6,695.2 L387.6,752.8 L392.1,795.3 L396.4,832.9 L398.9,847.9 L402.6,840.4 L406.4,817.9 L410.1,772.8 L413.9,720.2 L417.7,660.2 L421.4,607.6 L423.9,578.8 L428.2,570.0 L431.4,597.6 L434.7,645.1 L437.7,702.7 L441.4,765.3 L445.2,805.4 L448.9,832.9 L454.0,820.4 L457.7,785.3 L462.2,722.7 L465.2,655.2 L469.0,602.6 L471.5,572.5 L477.7,576.3 L480.0,625.1 L483.8,682.7 L486.3,740.3 L491.3,795.3 L493.0,835.4 L499.6,852.9 L505.1,830.4 L508.8,765.3 L513.8,700.2 L518.8,630.1 L522.6,592.6 L527.1,585.1 L530.6,607.6 L535.1,660.2 L538.1,710.2 L541.4,757.8 L545.1,805.4 L548.1,840.4 L552.1,859.2 L556.4,852.9 L560.1,820.4 L563.9,787.8 L566.4,732.8 L570.1,692.7 L573.9,645.1 L577.2,591.3 L581.8,598.8 L584.3,635.1 L589.3,680.2 L591.0,732.8 L595.5,780.3 L598.5,835.4 L606.1,870.4 L611.8,852.9 L614.3,812.9 L620.1,765.3 L620.1,705.2 L624.3,680.2 L628.6,645.1 L628.6,613.8 L635.1,590.1 L638.1,622.6 L640.6,650.1 L641.9,690.2 L645.6,725.2 L649.4,755.3 L650.1,809.1 L656.9,837.9 L658.6,862.9 L663.6,865.4 L663.6,842.9 L667.6,815.4 L670.6,792.8 L671.1,747.8 L674.4,720.2 L678.2,690.2 L678.2,636.4 L685.7,596.3 L691.9,612.6 L692.7,660.2 L696.9,687.7 L699.4,712.7 L701.2,765.3 L703.2,790.3 L704.4,830.4 L710.7,857.9 L711.9,870.4 L717.7,865.4 L718.7,835.4 L724.5,795.3 L725.7,740.3 L730.7,707.7 L733.7,680.2 L733.7,633.9 L738.2,610.1 L742.0,596.3" fill="none" stroke="#4a8fd3" stroke-width="5.0" stroke-linejoin="bevel" stroke-linecap="butt"/>
<path d="M163.92,851.40 L162.65,850.76 L162.54,849.35 L165.70,848.72Z M172.50,852.11 L171.91,855.39 L168.92,853.90 L169.68,850.95Z M194.44,575.55 L191.32,574.96 L191.39,573.08 L193.22,572.62Z M198.38,574.46 L198.22,571.37 L200.91,570.70 L201.30,573.44Z M221.49,843.69 L221.39,843.39 L221.37,843.07 L224.65,842.75Z M229.22,856.09 L226.40,858.43 L225.24,854.96 L227.84,853.40Z M234.57,850.90 L234.40,851.77 L233.72,852.33 L231.43,850.00Z M256.50,569.58 L253.94,568.40 L255.29,559.86 L258.70,567.80Z M259.39,577.76 L262.46,576.57 L262.59,576.88 L262.64,577.22Z M280.32,848.72 L280.22,848.42 L280.20,848.10 L283.47,847.75Z M287.72,858.13 L284.90,862.06 L283.33,857.48 L285.81,855.88Z M292.65,850.90 L292.54,851.43 L292.23,851.87 L289.47,850.09Z M311.02,582.67 L307.73,582.43 L307.74,582.18 L307.80,581.95Z M315.22,563.33 L312.81,561.92 L315.39,553.53 L317.68,562.01Z M339.55,862.93 L337.18,862.93 L337.06,860.56 L340.10,859.85Z M346.99,861.02 L346.52,862.93 L344.56,862.93 L344.06,859.80Z M370.86,575.26 L367.63,574.64 L367.67,574.37 L367.77,574.12Z M373.02,568.33 L370.78,566.61 L374.01,558.58 L375.56,567.09Z M401.12,849.03 L397.68,855.90 L396.42,848.32 L399.00,847.12Z M405.10,840.81 L405.04,841.18 L404.87,841.52 L401.88,840.15Z M424.69,579.01 L421.42,578.59 L421.46,578.12 L421.67,577.71Z M428.04,570.83 L425.92,568.95 L429.65,561.27 L430.65,569.75Z M451.27,833.82 L447.85,841.82 L446.47,833.23 L449.05,832.10Z M456.44,820.64 L456.40,820.98 L456.28,821.30 L453.18,820.18Z M471.84,573.26 L468.99,572.34 L469.32,568.33 L472.76,570.40Z M477.05,576.71 L479.02,574.15 L480.17,574.84 L480.23,576.18Z M490.70,836.26 L490.56,835.89 L490.55,835.50 L493.83,835.23Z M501.98,853.51 L500.05,861.43 L497.21,853.79 L499.51,852.12Z M507.56,830.53 L507.54,830.76 L507.49,830.98 L504.27,830.27Z M523.34,592.82 L520.10,592.32 L520.15,591.76 L520.44,591.28Z M526.94,585.85 L524.95,583.77 L528.50,577.85 L529.56,584.68Z M554.19,860.58 L550.90,865.42 L549.68,859.70 L552.28,858.39Z M558.86,853.20 L558.79,853.81 L558.45,854.32 L555.63,852.64Z M577.35,592.09 L574.66,591.17 L575.14,583.27 L579.29,590.01Z M581.01,599.07 L583.90,597.52 L584.23,598.04 L584.27,598.66Z M596.10,835.92 L596.06,835.72 L596.05,835.53 L599.34,835.29Z M608.43,871.22 L605.58,879.43 L603.61,870.96 L606.10,869.64Z M614.31,853.07 L614.29,853.39 L614.19,853.70 L611.03,852.77Z M620.87,705.29 L617.58,705.22 L617.58,705.01 L617.61,704.80Z M629.38,613.95 L626.09,613.85 L626.09,613.51 L626.18,613.19Z M635.03,590.86 L632.68,589.41 L635.88,581.10 L637.59,589.84Z M647.68,809.68 L647.62,809.41 L647.62,809.14 L650.91,809.01Z M656.08,838.02 L659.31,837.32 L659.35,837.52 L659.37,837.72Z M657.51,865.17 L656.23,864.53 L656.13,863.10 L659.29,862.49Z M666.13,865.43 L666.13,869.48 L662.52,867.67 L663.21,864.75Z M664.43,842.96 L661.13,842.90 L661.13,842.72 L661.16,842.54Z M678.95,636.45 L675.65,636.38 L675.65,636.15 L675.70,635.92Z M685.74,597.12 L683.21,595.86 L684.85,587.36 L688.00,595.43Z M691.14,612.75 L694.25,611.70 L694.41,612.11 L694.42,612.56Z M702.00,830.94 L701.95,830.71 L701.94,830.46 L705.23,830.28Z M713.59,872.33 L709.94,875.50 L709.46,870.69 L712.24,869.70Z M720.20,865.52 L720.17,866.60 L719.35,867.32 L716.98,865.09Z M734.52,633.95 L731.23,633.87 L731.23,633.64 L731.27,633.41Z" fill="#4a8fd3" fill-rule="nonzero" stroke="none"/>
<g stroke="#1a1a1a" stroke-width="3.2" fill="none">
<line x1="284.7" y1="556.7" x2="284.7" y2="900.3" stroke-dasharray="18.2 9 3.4 9" stroke-dashoffset="27.3"/>
<line x1="342.0" y1="516.8" x2="342.0" y2="900.3" stroke-dasharray="18.2 9 3.4 9" stroke-dashoffset="27.0"/>
<line x1="399.0" y1="516.8" x2="399.0" y2="900.3" stroke-dasharray="18.2 9 3.4 9" stroke-dashoffset="27.0"/>
<line x1="448.7" y1="516.8" x2="448.7" y2="900.3" stroke-dasharray="18.2 9 3.4 9" stroke-dashoffset="27.0"/>
<line x1="499.0" y1="516.8" x2="499.0" y2="900.3" stroke-dasharray="18.2 9 3.4 9" stroke-dashoffset="27.0"/>
<line x1="552.0" y1="516.8" x2="552.0" y2="900.3" stroke-dasharray="18.2 9 3.4 9" stroke-dashoffset="27.0"/>
<line x1="606.3" y1="568.5" x2="606.3" y2="900.3" stroke-dasharray="18.2 9 3.4 9" stroke-dashoffset="39.1"/>
</g>
<line x1="458.4" y1="510" x2="458.4" y2="515.8" stroke="#000" stroke-width="3.1"/>
<text transform="translate(102.3,571.1)" text-anchor="middle" style="font-size:33.5px;">0.06</text>
<text transform="translate(102.3,623.3)" text-anchor="middle" style="font-size:33.5px;">0.04</text>
<text transform="translate(102.3,675.5)" text-anchor="middle" style="font-size:33.5px;">0.02</text>
<text transform="translate(102.3,727.6)" text-anchor="middle" style="font-size:33.5px;">0.00</text>
<text transform="translate(102.3,779.7)" text-anchor="middle" style="font-size:33.5px;">-0.02</text>
<text transform="translate(102.3,831.8)" text-anchor="middle" style="font-size:33.5px;">-0.04</text>
<text transform="translate(102.3,884.0)" text-anchor="middle" style="font-size:33.5px;">-0.06</text>
<text transform="translate(283.2,932) scale(1.09,1)" text-anchor="middle" style="font-size:32px;letter-spacing:-1.6px;">-3</text>
<text transform="translate(338.7,932) scale(1.09,1)" text-anchor="middle" style="font-size:32px;letter-spacing:-1.6px;">-2</text>
<text transform="translate(389.4,932) scale(1.09,1)" text-anchor="middle" style="font-size:32px;letter-spacing:-1.6px;">-1</text>
<text transform="translate(447.8,932) scale(1.09,1)" text-anchor="middle" style="font-size:32px;">0</text>
<text transform="translate(497.8,932) scale(1.09,1)" text-anchor="middle" style="font-size:32px;">1</text>
<text transform="translate(551.3,932) scale(1.09,1)" text-anchor="middle" style="font-size:32px;">2</text>
<text transform="translate(603.5,932) scale(1.09,1)" text-anchor="middle" style="font-size:32px;">3</text>
<text transform="translate(439.5,969.4) scale(1.05,1)" text-anchor="middle" style="font-size:33px;">H [Oe] / 14 Oe</text>
<text transform="translate(-0.3,545.1)" text-anchor="start" style="font-size:48px;">(b)</text>
<text transform="translate(184,541.7)" text-anchor="start" style="font-size:39px;">sample-I</text>
<text transform="translate(43.3,703.5) rotate(-90)" text-anchor="middle" style="font-size:34px;">ΔR [Ω]</text>
<rect x="571.4" y="515.5" width="152.4" height="50" fill="#fffffb" stroke="#d0101c" stroke-width="2.4"/>
<text transform="translate(583.6,552.6) scale(0.91,1)" text-anchor="start" style="font-size:49px;">0 - ring</text>
<text transform="translate(-0.8,1062.8) scale(0.98,1)" text-anchor="start" style="font-size:49px;">(c)</text>
<rect x="149.3" y="1020" width="398" height="369.7" rx="66" ry="63" fill="none" stroke="#000" stroke-width="2.9"/>
<rect x="246" y="1098" width="206" height="204.4" rx="33" ry="33" fill="none" stroke="#000" stroke-width="2.2"/>
<g stroke="#1470c6" stroke-width="2.2" fill="none">
<line x1="223.4" y1="1048.1" x2="196.7" y2="1099.2"/>
<line x1="270" y1="1039.3" x2="249.7" y2="1074.7"/>
<line x1="331.2" y1="1039.3" x2="296.6" y2="1077.4"/>
<line x1="199.4" y1="1115.7" x2="194.6" y2="1150.3"/>
<line x1="189.8" y1="1168.5" x2="189.8" y2="1226.8"/>
<line x1="391.4" y1="1039.8" x2="348" y2="1073.9"/>
<line x1="462.5" y1="1047.3" x2="404.7" y2="1075.5"/>
<line x1="511.8" y1="1085.4" x2="458" y2="1099.5"/>
<line x1="531.2" y1="1153.3" x2="464.6" y2="1161.3"/>
<line x1="464.6" y1="1225.4" x2="533.9" y2="1232.6"/>
<line x1="459.8" y1="1297.9" x2="517.9" y2="1312.8"/>
<line x1="416.4" y1="1324.8" x2="474" y2="1352.7"/>
<line x1="355.2" y1="1321" x2="398.6" y2="1355.4"/>
<line x1="195.1" y1="1248.6" x2="199.9" y2="1283.2"/>
<line x1="198.6" y1="1304" x2="223.9" y2="1355.1"/>
<line x1="257.2" y1="1320.5" x2="277.2" y2="1355.1"/>
<line x1="303.8" y1="1317.8" x2="338.4" y2="1355.1"/>
</g>
<g stroke="#000" stroke-width="1.6">
<ellipse cx="213.8" cy="1066.7" rx="8.4" ry="5.2" fill="#fff" transform="rotate(117.6 213.8 1066.7)"/>
<ellipse cx="206.6" cy="1081.4" rx="8.4" ry="5.2" fill="#9a9a9a" transform="rotate(117.6 206.6 1081.4)"/>
<ellipse cx="321.1" cy="1052.1" rx="8.4" ry="5.2" fill="#fff" transform="rotate(132.2 321.1 1052.1)"/>
<ellipse cx="309.1" cy="1064.6" rx="8.4" ry="5.2" fill="#9a9a9a" transform="rotate(132.2 309.1 1064.6)"/>
<ellipse cx="189.8" cy="1188.3" rx="8.4" ry="5.2" fill="#fff" transform="rotate(90.0 189.8 1188.3)"/>
<ellipse cx="189.8" cy="1205.0" rx="8.4" ry="5.2" fill="#9a9a9a" transform="rotate(90.0 189.8 1205.0)"/>
<ellipse cx="443.3" cy="1057.9" rx="8.4" ry="5.2" fill="#fff" transform="rotate(154.0 443.3 1057.9)"/>
<ellipse cx="427.1" cy="1065.4" rx="8.4" ry="5.2" fill="#9a9a9a" transform="rotate(154.0 427.1 1065.4)"/>
<ellipse cx="505.1" cy="1156.2" rx="8.4" ry="5.2" fill="#fff" transform="rotate(173.2 505.1 1156.2)"/>
<ellipse cx="486.5" cy="1158.3" rx="8.4" ry="5.2" fill="#9a9a9a" transform="rotate(173.2 486.5 1158.3)"/>
<ellipse cx="489.1" cy="1229.1" rx="8.4" ry="5.2" fill="#fff" transform="rotate(5.9 489.1 1229.1)"/>
<ellipse cx="507.2" cy="1230.7" rx="8.4" ry="5.2" fill="#9a9a9a" transform="rotate(5.9 507.2 1230.7)"/>
<ellipse cx="438.5" cy="1335.1" rx="8.4" ry="5.2" fill="#fff" transform="rotate(25.8 438.5 1335.1)"/>
<ellipse cx="455" cy="1342.6" rx="8.4" ry="5.2" fill="#9a9a9a" transform="rotate(25.8 455 1342.6)"/>
<ellipse cx="207.9" cy="1323.2" rx="8.4" ry="5.2" fill="#fff" transform="rotate(63.7 207.9 1323.2)"/>
<ellipse cx="215.9" cy="1338.3" rx="8.4" ry="5.2" fill="#9a9a9a" transform="rotate(63.7 215.9 1338.3)"/>
<ellipse cx="315.8" cy="1330.3" rx="8.4" ry="5.2" fill="#fff" transform="rotate(47.2 315.8 1330.3)"/>
<ellipse cx="327.7" cy="1343.1" rx="8.4" ry="5.2" fill="#9a9a9a" transform="rotate(47.2 327.7 1343.1)"/>
</g>
<line x1="462.5" y1="1192.7" x2="530.4" y2="1192.7" stroke="#ff0000" stroke-width="3.2" stroke-dasharray="10 9.3"/>
<text transform="translate(348.5,1218.9) scale(0.93,1)" text-anchor="middle" style="font-size:49.5px;">Φ</text>
<text transform="translate(652,1170.5) scale(0.98,1)" text-anchor="middle" style="font-size:46px;fill:#ff0000;">π</text>
<text transform="translate(649.8,1231) scale(0.925,1)" text-anchor="middle" style="font-size:48.5px;fill:#ff0000;">junction</text>
</svg></body></html>
